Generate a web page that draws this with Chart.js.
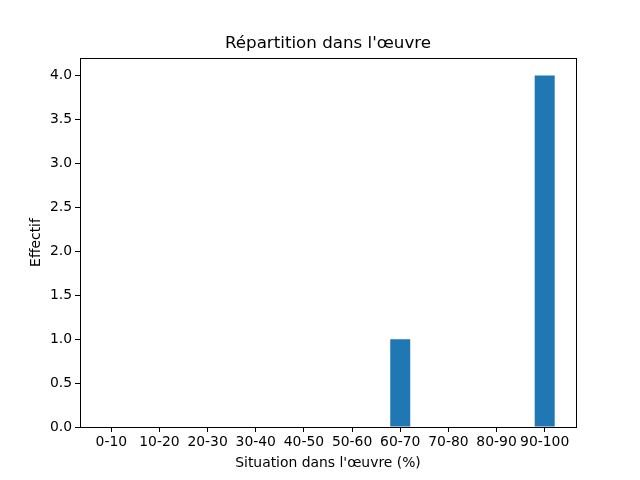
<!DOCTYPE html>
<html>
<head>
<meta charset="utf-8">
<script src="https://cdn.jsdelivr.net/npm/chart.js@4/dist/chart.umd.min.js"></script>
<style>
  html, body { margin: 0; padding: 0; background: #fff; }
  #wrap { width: 640px; height: 480px; }
</style>
</head>
<body>
<div id="wrap"><canvas id="histo"></canvas></div>
<script>
const categories = ['0-10', '10-20', '20-30', '30-40', '40-50', '50-60', '60-70', '70-80', '80-90', '90-100'];
const effectifs = [0, 0, 0, 0, 0, 0, 1, 0, 0, 4];
const yTicks = [0, 0.5, 1, 1.5, 2, 2.5, 3, 3.5, 4];

// cadre complet autour de la zone du graphique (style matplotlib)
const cadre = {
    id: 'cadre',
    afterDraw(chart) {
        const a = chart.chartArea, ctx = chart.ctx;
        ctx.save();
        ctx.strokeStyle = '#000';
        ctx.lineWidth = 1;
        ctx.strokeRect(Math.round(a.left) + 0.5, Math.round(a.top) + 0.5,
            Math.round(a.right - a.left), Math.round(a.bottom - a.top));
        ctx.restore();
    }
};

const police = 'DejaVu Sans';

new Chart(document.getElementById('histo'), {
    type: 'bar',
    data: {
        datasets: [{
            data: effectifs.map((v, i) => ({ x: i, y: v })),
            backgroundColor: '#1f77b4',
            borderWidth: 0,
            inflateAmount: 0,
            barThickness: 20
        }]
    },
    options: {
        responsive: true,
        maintainAspectRatio: false,
        animation: false,
        layout: { padding: { left: 16, right: 0, top: 0, bottom: 0 } },
        plugins: {
            legend: { display: false },
            tooltip: { enabled: false },
            title: {
                display: true,
                text: "Répartition dans l'œuvre",
                color: '#000',
                font: { family: police, size: 16.7, weight: 'normal' },
                padding: { top: 34, bottom: 4 }
            }
        },
        scales: {
            x: {
                type: 'linear',
                offset: false,
                min: -0.65,
                max: 9.65,
                afterBuildTicks(axis) {
                    axis.ticks = categories.map((c, i) => ({ value: i }));
                },
                afterFit(axis) { axis.height = 53; },
                ticks: {
                    autoSkip: false,
                    maxRotation: 0,
                    color: '#000',
                    font: { family: police, size: 13.9 },
                    padding: 2,
                    callback: (v) => categories[v]
                },
                grid: { offset: false, drawOnChartArea: false, drawTicks: true, tickLength: 5, color: '#000' },
                border: { color: '#000' },
                title: {
                    display: true,
                    text: "Situation dans l'œuvre (%)",
                    color: '#000',
                    font: { family: police, size: 13.9 },
                    padding: { top: 0, bottom: 8 }
                }
            },
            y: {
                min: 0,
                max: 4.2,
                afterBuildTicks(axis) {
                    axis.ticks = yTicks.map(v => ({ value: v }));
                },
                afterFit(axis) { axis.width = 64; },
                ticks: {
                    color: '#000',
                    font: { family: police, size: 13.9 },
                    padding: 3,
                    callback: (v) => v.toFixed(1)
                },
                grid: { drawOnChartArea: false, drawTicks: true, tickLength: 5, color: '#000' },
                border: { color: '#000' },
                title: {
                    display: true,
                    text: 'Effectif',
                    color: '#000',
                    font: { family: police, size: 13.9 },
                    padding: { top: 12, bottom: 0 }
                }
            },
            marge: {
                position: 'right',
                display: true,
                ticks: { display: false },
                grid: { display: false },
                border: { display: false },
                afterFit(axis) { axis.width = 64; }
            }
        }
    },
    plugins: [cadre]
});
</script>
</body>
</html>
